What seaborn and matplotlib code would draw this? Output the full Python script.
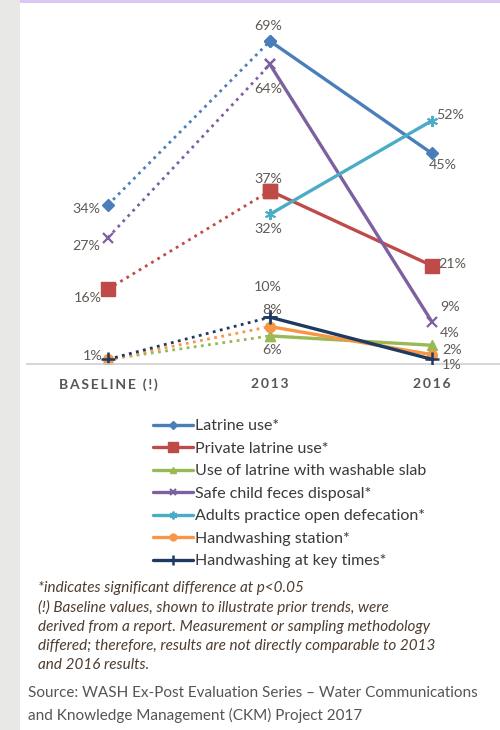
import matplotlib
matplotlib.use("Agg")
import matplotlib.pyplot as plt
import seaborn as sns
import pandas as pd
from matplotlib.patches import Rectangle

# ---------------- data ----------------
periods = ["BASELINE (!)", "2013", "2016"]
series = [
    "Latrine use*",
    "Private latrine use*",
    "Use of latrine with washable slab",
    "Safe child feces disposal*",
    "Adults practice open defecation*",
    "Handwashing station*",
    "Handwashing at key times*",
]
baseline = [34, 16, 1, 27, None, 1, 1]
y2013 = [69, 37, 6, 64, 32, 8, 10]
y2016 = [45, 21, 4, 9, 52, 2, 1]

footnote = [
    "*indicates significant difference at p<0.05",
    "(!) Baseline values, shown to illustrate prior trends, were",
    "derived from a report. Measurement or sampling methodology",
    "differed; therefore, results are not directly comparable to 2013",
    "and 2016 results.",
]
source = [
    "Source: WASH Ex-Post Evaluation Series \u2013 Water Communications",
    "and Knowledge Management (CKM) Project 2017",
]

# ---------------- style ----------------
colors = ["#4a7ebb", "#be4b48", "#98b954", "#7d60a0", "#4bacc6", "#f79646", "#1f3a60"]
markers = ["D", "s", "^", "x", (6, 2, 0), "o", "+"]
msizes = [6, 9.5, 7, 7, 8, 7, 10]
mews = [1, 1, 1, 1.6, 1.4, 1, 1.8]

# label offsets (pixels) per series for each period: (dx, dy, ha) or None
label_layout = {
    0: [(-8, -4, "right"), (-2, 15, "center"), (11, -12, "center")],
    1: [(-6, -9, "right"), (-2, 12, "center"), (6, 2, "left")],
    2: [None, (2, -14, "center"), (18, 12, "center")],
    3: [(-8, -8, "right"), (-2, -25, "center"), (18, 15, "center")],
    4: [None, (-2, -15, "center"), (4, 6, "left")],
    5: [None, (2, 17, "center"), (20, 5, "center")],
    6: [(-5, 3, "right"), (-2, 30, "center"), (20, -6, "center")],
}

rows = []
for i, s in enumerate(series):
    for p, vals in enumerate([baseline, y2013, y2016]):
        v = vals[i]
        if v is not None:
            rows.append({"series": s, "pos": p, "period": periods[p], "value": v, "idx": i})
df = pd.DataFrame(rows)

sns.set_theme(style="white")
plt.rcParams["font.family"] = ["Lato", "DejaVu Sans"]

W, H = 500, 730
fig = plt.figure(figsize=(W / 100, H / 100), dpi=100)
fig.patch.set_facecolor("white")

# decorative page strips
fig.patches.append(Rectangle((0, 0), 20 / W, 1, transform=fig.transFigure,
                             facecolor="#e8e8e6", edgecolor="none", zorder=0))
fig.patches.append(Rectangle((20 / W, 1 - 3 / H), 1, 3 / H, transform=fig.transFigure,
                             facecolor="#dcc6f2", edgecolor="none", zorder=0))

ax = fig.add_axes([27 / W, 1 - 364 / H, (500 - 27) / W, (364 - 20) / H])
ax.set_facecolor("none")

txt_color = "#5f5a55"

for i, s in enumerate(series):
    sub = df[df["series"] == s]
    dotted = sub[sub["pos"] <= 1]
    solid = sub[sub["pos"] >= 1]
    common = dict(color=colors[i], marker=markers[i], markersize=msizes[i],
                  markeredgewidth=mews[i], markeredgecolor=colors[i],
                  markerfacecolor=colors[i], ax=ax)
    if len(dotted) == 2:
        sns.lineplot(data=dotted, x="pos", y="value", linestyle=(0, (1, 1.6)),
                     linewidth=2.0, zorder=2, **common)
    sns.lineplot(data=solid, x="pos", y="value", linewidth=2.4, zorder=3,
                 label=s, **common)

    for _, r in sub.iterrows():
        lay = label_layout[i][r["pos"]]
        if lay is None:
            continue
        dx, dy, ha = lay
        ax.annotate(f"{r['value']}%", (r["pos"], r["value"]), xytext=(dx, dy),
                    textcoords="offset pixels", ha=ha, va="center",
                    fontsize=10.3, color=txt_color, zorder=5)

ax.set_xlim(-0.5, 2.42)
ax.set_ylim(0, 344 / 4.68)
ax.set_xticks([0, 1, 2])
ax.set_xticklabels(["\u2009".join(p) for p in periods], fontsize=10,
                   fontweight="bold", color="#5a5550")
ax.tick_params(axis="x", length=0, pad=10)
ax.set_yticks([])
ax.set_xlabel("")
ax.set_ylabel("")
for side in ["left", "right", "top"]:
    ax.spines[side].set_visible(False)
ax.spines["bottom"].set_color("#d0d0d0")
ax.spines["bottom"].set_linewidth(1.2)

handles, labels = ax.get_legend_handles_labels()
if ax.legend_:
    ax.legend_.remove()
leg = fig.legend(handles, labels, loc="upper left",
                 bbox_to_anchor=(153 / W, 1 - 419 / H), frameon=False,
                 fontsize=11.5, labelspacing=0.52, handlelength=2.5,
                 handletextpad=0.12, borderpad=0, borderaxespad=0, numpoints=1,
                 markerscale=0.7)
for t in leg.get_texts():
    t.set_color("#3a3a3a")

for k, line in enumerate(footnote):
    fig.text(38 / W, 1 - (588 + k * 19.3) / H, line, fontsize=11, style="italic",
             color="#4e3d30", va="center", ha="left")

for k, line in enumerate(source):
    fig.text(28 / W, 1 - (693 + k * 22) / H, line, fontsize=11,
             color="#555555", va="center", ha="left")

fig.savefig("out.png", dpi=100)
